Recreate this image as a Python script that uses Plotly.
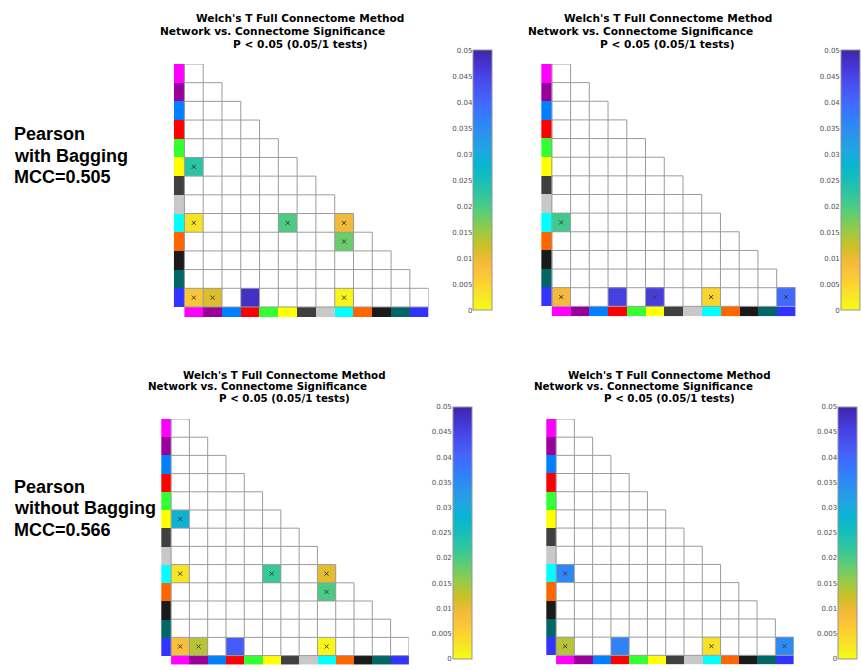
import plotly.graph_objects as go

# ---------------------------------------------------------------- data
NETWORKS = ["Net01", "Net02", "Net03", "Net04", "Net05", "Net06", "Net07",
            "Net08", "Net09", "Net10", "Net11", "Net12", "Net13"]
NETWORK_COLORS = ["#FF00FF", "#990099", "#0080FF", "#FF0000", "#33FF33",
                  "#FFFF00", "#404040", "#C8C8C8", "#00FFFF", "#FF6600",
                  "#1A1A1A", "#006666", "#3333FF"]

# significant network pairs: row index, column index, p value, "x" flag
PB_ROWS = [5, 8, 8, 8, 9, 12, 12, 12, 12]
PB_COLS = [0, 0, 5, 8, 8, 0, 1, 3, 8]
PB_P = [0.023, 0.0032, 0.0198, 0.0095, 0.018, 0.007, 0.011, 0.048, 0.0008]
PB_MARK = [1, 1, 1, 1, 1, 1, 1, 0, 1]

PB2_ROWS = [8, 12, 12, 12, 12, 12]
PB2_COLS = [0, 0, 3, 5, 8, 12]
PB2_P = [0.0206, 0.009, 0.0455, 0.046, 0.0048, 0.0397]
PB2_MARK = [1, 1, 0, 1, 1, 1]

PN_ROWS = [5, 8, 8, 8, 9, 12, 12, 12, 12]
PN_COLS = [0, 0, 5, 8, 8, 0, 1, 3, 8]
PN_P = [0.0285, 0.003, 0.0214, 0.0104, 0.020, 0.008, 0.0135, 0.0415, 0.0008]
PN_MARK = [1, 1, 1, 1, 1, 1, 1, 0, 1]

PN2_ROWS = [8, 12, 12, 12, 12]
PN2_COLS = [0, 0, 3, 8, 12]
PN2_P = [0.0357, 0.0135, 0.0362, 0.0035, 0.035]
PN2_MARK = [1, 1, 0, 1, 1]

CBAR_TICKS = [0, 0.005, 0.01, 0.015, 0.02, 0.025, 0.03, 0.035, 0.04, 0.045, 0.05]
P_MAX = 0.05

TITLE_LINES = ["Welch's T Full Connectome Method",
               "Network vs. Connectome Significance",
               "P < 0.05 (0.05/1 tests)"]
ROW_LABELS = [["Pearson", "with Bagging", "MCC=0.505"],
              ["Pearson", "without Bagging", "MCC=0.566"]]

# parula colormap, reversed so that small p values are yellow
PARULA = [(0.2422, 0.1504, 0.6603), (0.2706, 0.2147, 0.8364),
          (0.2813, 0.3006, 0.9414), (0.2699, 0.3892, 0.9906),
          (0.1963, 0.4847, 0.9892), (0.1687, 0.5703, 0.9359),
          (0.1248, 0.6459, 0.8883), (0.0297, 0.7082, 0.8163),
          (0.0964, 0.7500, 0.7120), (0.2161, 0.7843, 0.5923),
          (0.3909, 0.8029, 0.4354), (0.6174, 0.7876, 0.2612),
          (0.8203, 0.7498, 0.1535), (0.9728, 0.7298, 0.2394),
          (0.9892, 0.8136, 0.1885), (0.9597, 0.9135, 0.1423),
          (0.9769, 0.9839, 0.0805)]
PARULA_IDX = [0, 4, 8, 12, 16, 20, 24, 28, 32, 36, 40, 44, 48, 52, 56, 60, 63]

# ---------------------------------------------------------------- layout
W, H = 861, 670
N = len(NETWORKS)


def fx(px):
    return px / W


def fy(py):
    return 1 - py / H


parula_r = []
for idx, (r, g, b) in zip(PARULA_IDX, PARULA):
    parula_r.append([1 - idx / 63, f"rgb({round(r*255)},{round(g*255)},{round(b*255)})"])
parula_r.sort(key=lambda s: s[0])

net_scale = [[i / (N - 1), col] for i, col in enumerate(NETWORK_COLORS)]

PANELS = [
    dict(gx=185.7, gy=60.7, c=18.92, bw=10.7, bh=10.0, cbx=476.7, cb0=47.3, cb1=310.0,
         ty=[14, 27, 40], tx=[302.5, 274.5, 302.5], tfs=10.6,
         data=(PB_ROWS, PB_COLS, PB_P, PB_MARK)),
    dict(gx=555.7, gy=60.7, c=18.87, bw=10.7, bh=10.0, cbx=846.7, cb0=47.3, cb1=310.0,
         ty=[14, 27, 40], tx=[672.5, 644.5, 672.5], tfs=10.6,
         data=(PB2_ROWS, PB2_COLS, PB2_P, PB2_MARK)),
    dict(gx=172.3, gy=420.0, c=18.42, bw=10.0, bh=9.3, cbx=456.0, cb0=407.7, cb1=662.7,
         ty=[375, 387, 399], tx=[286.7, 259.7, 286.5], tfs=10.3,
         data=(PN_ROWS, PN_COLS, PN_P, PN_MARK)),
    dict(gx=560.0, gy=420.0, c=18.40, bw=10.0, bh=9.3, cbx=844.0, cb0=407.7, cb1=662.7,
         ty=[375, 387, 399], tx=[674.7, 647.7, 674.5], tfs=10.3,
         data=(PN2_ROWS, PN2_COLS, PN2_P, PN2_MARK)),
]

fig = go.Figure()
layout = dict(width=W, height=H, margin=dict(l=0, r=0, t=0, b=0),
              paper_bgcolor="white", plot_bgcolor="rgba(0,0,0,0)",
              showlegend=False, annotations=[])

GRID_COLOR = "rgb(155,155,155)"

for k, sp in enumerate(PANELS):
    n, m = 2 * k + 1, 2 * k + 2
    xa = "x" if n == 1 else f"x{n}"
    ya = "y" if n == 1 else f"y{n}"
    xk = "xaxis" if n == 1 else f"xaxis{n}"
    yk = "yaxis" if n == 1 else f"yaxis{n}"
    c, bw, bh = sp["c"], sp["bw"], sp["bh"]
    lbar = bw / c
    bbar = bh / c

    layout[xk] = dict(domain=[fx(sp["gx"] - bw), fx(sp["gx"] + N * c)],
                      range=[-0.5 - lbar, N - 0.5], visible=False, anchor=ya,
                      fixedrange=True)
    layout[yk] = dict(domain=[fy(sp["gy"] + N * c + bh), fy(sp["gy"])],
                      range=[N - 0.5 + bbar, -0.5], visible=False, anchor=xa,
                      fixedrange=True)

    rows, cols, pvals, marks = sp["data"]
    z = [[None] * N for _ in range(N)]
    for r, cc, p in zip(rows, cols, pvals):
        z[r][cc] = p

    # significance matrix with its colour bar
    fig.add_trace(go.Heatmap(
        z=z, x=list(range(N)), y=list(range(N)), xaxis=xa, yaxis=ya,
        zmin=0, zmax=P_MAX, colorscale=parula_r, hoverinfo="skip",
        colorbar=dict(x=fx(sp["cbx"]), xanchor="left", xref="paper",
                      y=fy(sp["cb1"]), yanchor="bottom", yref="paper",
                      len=(sp["cb1"] - sp["cb0"]) / H, lenmode="fraction",
                      thickness=19, thicknessmode="pixels", xpad=0, ypad=0,
                      outlinewidth=1, outlinecolor="rgb(150,150,150)",
                      ticks="", showticklabels=False)))

    # network colour strips (left and bottom)
    edges = [i - 0.5 for i in range(N + 1)]
    fig.add_trace(go.Heatmap(
        z=[[i] for i in range(N)], x=[-0.5 - lbar, -0.5], y=edges,
        xaxis=xa, yaxis=ya, zmin=0, zmax=N - 1, colorscale=net_scale,
        showscale=False, hoverinfo="skip"))
    fig.add_trace(go.Heatmap(
        z=[list(range(N))], x=edges, y=[N - 0.5, N - 0.5 + bbar],
        xaxis=xa, yaxis=ya, zmin=0, zmax=N - 1, colorscale=net_scale,
        showscale=False, hoverinfo="skip"))

    # lower-triangle cell outlines
    gxs, gys = [], []
    for r in range(N + 1):
        gxs += [-0.5, min(r, N - 1) + 0.5, None]
        gys += [r - 0.5, r - 0.5, None]
    for cc in range(N + 1):
        top = max(cc - 1, 0) - 0.5
        gxs += [cc - 0.5, cc - 0.5, None]
        gys += [top, N - 0.5, None]
    fig.add_trace(go.Scatter(x=gxs, y=gys, mode="lines", xaxis=xa, yaxis=ya,
                             line=dict(color=GRID_COLOR, width=1),
                             hoverinfo="skip"))

    # "x" markers
    mx = [cc for cc, f in zip(cols, marks) if f]
    my = [r for r, f in zip(rows, marks) if f]
    fig.add_trace(go.Scatter(x=mx, y=my, mode="markers", xaxis=xa, yaxis=ya,
                             marker=dict(symbol="x-thin", size=4,
                                         line=dict(width=1, color="rgb(60,60,60)")),
                             hoverinfo="skip"))

    # tick axis on the left edge of the colour bar
    xo = f"x{m}"
    yo = f"y{m}"
    layout[f"xaxis{m}"] = dict(domain=[fx(sp["cbx"]), min(fx(sp["cbx"] + 1), 1.0)],
                               range=[0, 1], visible=False, anchor=yo, fixedrange=True)
    layout[f"yaxis{m}"] = dict(domain=[fy(sp["cb1"]), fy(sp["cb0"])],
                               range=[0, P_MAX], anchor=xo, side="left",
                               tickvals=CBAR_TICKS, ticks="inside", ticklen=3,
                               tickcolor="rgb(120,120,120)", showgrid=False,
                               zeroline=False, showline=False, fixedrange=True,
                               tickfont=dict(family="DejaVu Sans", size=7,
                                             color="rgb(80,80,80)"))
    fig.add_trace(go.Scatter(x=[0, 0], y=[0, P_MAX], mode="markers", xaxis=xo,
                             yaxis=yo, marker=dict(opacity=0), hoverinfo="skip"))

    # three-line title
    for line, tx, ty in zip(TITLE_LINES, sp["tx"], sp["ty"]):
        layout["annotations"].append(dict(
            text=f"<b>{line}</b>", x=fx(tx), y=fy(ty), xref="paper", yref="paper",
            xanchor="center", yanchor="middle", showarrow=False,
            font=dict(family="DejaVu Sans", size=sp["tfs"], color="black")))

# row labels
LABEL_Y = [[132, 153.7, 175.4], [489, 510.5, 532]]
for labels, ys in zip(ROW_LABELS, LABEL_Y):
    for text, yy in zip(labels, ys):
        layout["annotations"].append(dict(
            text=f"<b>{text}</b>", x=fx(12.5), y=fy(yy), xref="paper", yref="paper",
            xanchor="left", yanchor="middle", showarrow=False,
            font=dict(family="Liberation Sans", size=18, color="black")))

fig.update_layout(**layout)
fig.write_html("out.html")
